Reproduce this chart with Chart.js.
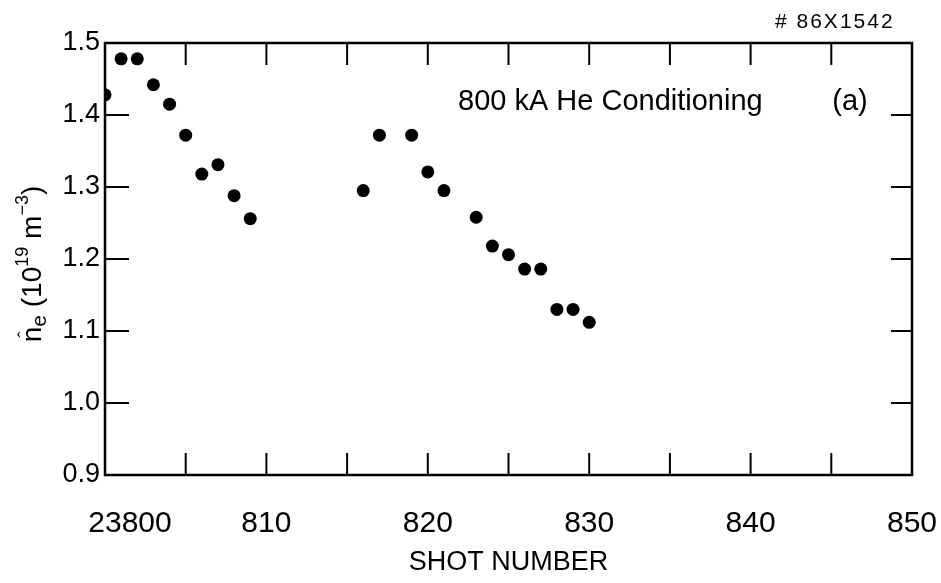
<!DOCTYPE html>
<html>
<head>
<meta charset="utf-8">
<script src="https://cdn.jsdelivr.net/npm/chart.js@4.4.0/dist/chart.umd.min.js"></script>
<style>
  html, body { margin: 0; padding: 0; background: #fff; }
</style>
</head>
<body>
<canvas id="chart" width="941" height="583"></canvas>
<script>
// Shot numbers (23800 series) and line-averaged density
const shotsA = [800, 801, 802, 803, 804, 805, 806, 807, 808, 809];
const densA = [1.428, 1.478, 1.478, 1.442, 1.415, 1.372, 1.318, 1.331, 1.288, 1.256];
const shotsB = [816, 817, 819, 820, 821, 823, 824, 825, 826, 827, 828, 829, 830];
const densB = [1.295, 1.372, 1.372, 1.321, 1.295, 1.258, 1.218, 1.206, 1.186, 1.186, 1.130, 1.130, 1.112];

const xTickValues = [800, 810, 820, 830, 840, 850];
const xTickLabels = ['23800', '810', '820', '830', '840', '850'];
const yMin = 0.9, yMax = 1.5;

const annotation = '800 kA He Conditioning';
const panelTag = '(a)';
const figureId = '# 86X1542';
const xTitle = 'SHOT NUMBER';

const FONT = '"Liberation Sans", Arial, sans-serif';

const points = shotsA.map((s, i) => ({ x: s, y: densA[i] }))
  .concat(shotsB.map((s, i) => ({ x: s, y: densB[i] })));

// frame, inward ticks on all four sides, and the extra text
const framePlugin = {
  id: 'frame',
  afterDatasetsDraw(chart) {
    const { ctx, chartArea: a, scales: { x, y } } = chart;
    ctx.save();
    ctx.strokeStyle = '#000';
    ctx.lineWidth = 2.5;
    ctx.strokeRect(a.left, a.top, a.right - a.left, a.bottom - a.top);

    ctx.lineWidth = 2;
    ctx.beginPath();
    x.ticks.forEach(t => {
      const px = x.getPixelForValue(t.value);
      ctx.moveTo(px, a.bottom); ctx.lineTo(px, a.bottom - 22);
      ctx.moveTo(px, a.top); ctx.lineTo(px, a.top + 22);
    });
    y.ticks.forEach(t => {
      const py = y.getPixelForValue(t.value);
      ctx.moveTo(a.left, py); ctx.lineTo(a.left + 24, py);
      ctx.moveTo(a.right, py); ctx.lineTo(a.right - 21, py);
    });
    ctx.stroke();

    ctx.fillStyle = '#000';
    ctx.textBaseline = 'alphabetic';
    ctx.font = '29px ' + FONT;
    ctx.textAlign = 'left';
    ctx.fillText(annotation, 458, 110);
    ctx.textAlign = 'center';
    ctx.fillText(panelTag, 850, 110);

    ctx.font = '21px ' + FONT;
    ctx.textAlign = 'left';
    ctx.letterSpacing = '2px';
    ctx.fillText(figureId, 775, 28);
    ctx.letterSpacing = '0px';

    // y axis title: n^_e (10^19 m^-3), rotated
    ctx.translate(41, 264);
    ctx.rotate(-Math.PI / 2);
    const parts = [
      { t: 'n', size: 28, dy: 0 },
      { t: 'e', size: 21, dy: 5 },
      { t: ' (10', size: 28, dy: 0 },
      { t: '19', size: 18, dy: -13 },
      { t: ' m', size: 28, dy: 0 },
      { t: '\u22123', size: 18, dy: -13 },
      { t: ')', size: 28, dy: 0 }
    ];
    let total = 0;
    parts.forEach(p => { ctx.font = p.size + 'px ' + FONT; p.w = ctx.measureText(p.t).width; total += p.w; });
    let cx = -total / 2;
    ctx.textAlign = 'left';
    parts.forEach((p, i) => {
      ctx.font = p.size + 'px ' + FONT;
      ctx.fillText(p.t, cx, p.dy);
      if (i === 0) {
        ctx.font = '18px ' + FONT;
        ctx.textAlign = 'center';
        ctx.fillText('\u02C6', cx + p.w / 2, -10);
        ctx.textAlign = 'left';
      }
      cx += p.w;
    });
    ctx.restore();
  }
};

new Chart(document.getElementById('chart'), {
  type: 'scatter',
  data: {
    datasets: [{
      data: points,
      backgroundColor: '#000',
      borderWidth: 0,
      pointRadius: 6.5,
      pointHoverRadius: 6.5
    }]
  },
  options: {
    responsive: false,
    animation: false,
    events: [],
    layout: { padding: { top: 43, right: 29, bottom: 0, left: 0 } },
    plugins: { legend: { display: false }, tooltip: { enabled: false } },
    scales: {
      x: {
        type: 'linear',
        min: 800,
        max: 850,
        // grid lines hidden; tickLength only sets the label offset
        grid: { display: false, drawTicks: true, tickLength: 31 },
        border: { display: false },
        afterFit: s => { s.height = 108; },
        ticks: {
          stepSize: 5,
          autoSkip: false,
          maxRotation: 0,
          padding: 0,
          color: '#000',
          font: { family: FONT, size: 30 },
          callback: v => {
            const i = xTickValues.indexOf(v);
            if (i < 0) return '';
            return i === 0 ? '      ' + xTickLabels[i] : xTickLabels[i];
          }
        },
        title: {
          display: true,
          text: xTitle,
          color: '#000',
          font: { family: FONT, size: 27 },
          padding: { top: 0, bottom: 4 }
        }
      },
      y: {
        min: yMin,
        max: yMax,
        grid: { display: false, drawTicks: false },
        border: { display: false },
        afterFit: s => { s.width = 105; },
        ticks: {
          stepSize: 0.1,
          padding: 5,
          color: '#000',
          font: { family: FONT, size: 27 },
          callback: v => Number(v).toFixed(1)
        }
      }
    }
  },
  plugins: [framePlugin]
});
</script>
</body>
</html>
